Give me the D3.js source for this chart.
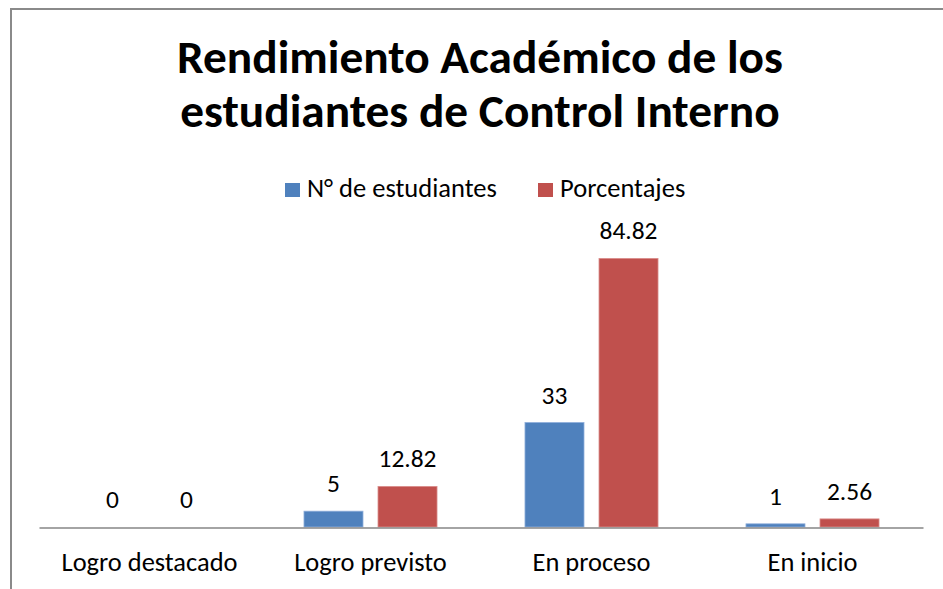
<!DOCTYPE html>
<html>
<head>
<meta charset="utf-8">
<script src="https://cdn.jsdelivr.net/npm/d3@7"></script>
<style>
  html, body { margin: 0; padding: 0; background: #fff; }
  svg { display: block; }
  text { font-family: Carlito, Calibri, Lato, "Open Sans", sans-serif; fill: #000; }
</style>
</head>
<body>
<svg id="chart" width="943" height="589"></svg>
<script>
const titleLines = ["Rendimiento Académico de los", "estudiantes de Control Interno"];
const categories = ["Logro destacado", "Logro previsto", "En proceso", "En inicio"];
const seriesNames = ["N° de estudiantes", "Porcentajes"];
const estudiantes = [0, 5, 33, 1];
const porcentajes = [0, 12.82, 84.82, 2.56];
const seriesColors = ["#4F81BD", "#C0504D"];
const seriesStroke = ["#8FAEDB", "#DA8E8C"];

const W = 943, H = 589;
const svg = d3.select("#chart");

// frame
svg.append("path")
  .attr("d", `M11,${H + 5} L11,9 L${W + 5},9`)
  .attr("fill", "none").attr("stroke", "#8a8a8a").attr("stroke-width", 2);

// helper: fit font-size so text width matches target
function fitFont(sel, target, base) {
  sel.style("font-size", base + "px");
  const w = sel.node().getComputedTextLength();
  const size = base * target / w;
  sel.style("font-size", size + "px");
  return size;
}

// title
const t1 = svg.append("text").attr("x", 480).attr("y", 73).attr("text-anchor", "middle")
  .style("font-weight", "bold").text(titleLines[0]);
const tSize = fitFont(t1, 606, 40);
svg.append("text").attr("x", 480).attr("y", 127).attr("text-anchor", "middle")
  .style("font-weight", "bold").style("font-size", tSize + "px").text(titleLines[1]);

// scales
const x = d3.scaleBand().domain(categories).range([39, 923]).padding(0);
const groupW = x.bandwidth() * 0.602;
const xs = d3.scaleBand().domain(seriesNames).range([-groupW / 2, groupW / 2])
  .paddingInner(0.2027).paddingOuter(0);
const y = d3.scaleLinear().domain([0, 90]).range([527, 242]);

const data = categories.map((c, i) => ({
  cat: c,
  vals: [
    { s: seriesNames[0], v: estudiantes[i], k: 0 },
    { s: seriesNames[1], v: porcentajes[i], k: 1 }
  ]
}));

const g = svg.append("g");
const groups = g.selectAll("g.cat").data(data).join("g")
  .attr("class", "cat")
  .attr("transform", d => `translate(${x(d.cat) + x.bandwidth() / 2},0)`);

groups.selectAll("rect").data(d => d.vals.filter(e => e.v > 0)).join("rect")
  .attr("x", e => xs(e.s))
  .attr("width", xs.bandwidth())
  .attr("y", e => y(e.v))
  .attr("height", e => y(0) - y(e.v))
  .attr("fill", e => seriesColors[e.k])
  .attr("stroke", e => seriesStroke[e.k])
  .attr("stroke-width", 0.8);

// measure data label font
const probe = svg.append("text").text("84.82");
const lblSize = fitFont(probe, 58, 22);
probe.remove();

groups.selectAll("text.lbl").data(d => d.vals).join("text")
  .attr("class", "lbl")
  .attr("x", e => xs(e.s) + xs.bandwidth() / 2)
  .attr("y", e => y(e.v) - 19)
  .attr("text-anchor", "middle")
  .style("font-size", lblSize + "px")
  .text(e => String(e.v));

// axis
const axis = d3.axisBottom(x).tickSize(0).tickPadding(0);
const ax = svg.append("g").attr("transform", `translate(0,${y(0) + 0.5})`).call(axis);
ax.select(".domain").attr("stroke", "#868686").attr("stroke-width", 1.5);
const probe2 = svg.append("text").text(categories[0]);
const catSize = fitFont(probe2, 176, 22);
probe2.remove();
ax.selectAll(".tick text")
  .attr("y", 43.5).attr("dy", 0)
  .style("font-size", catSize + "px")
  .style("font-family", "Carlito, Calibri, Lato, 'Open Sans', sans-serif")
  .attr("fill", "#000");

// legend
const probe3 = svg.append("text").text(seriesNames[0]);
const legSize = fitFont(probe3, 190, 22);
probe3.remove();
const legendX = [285, 538];
const leg = svg.append("g").selectAll("g").data(seriesNames).join("g")
  .attr("transform", (d, i) => `translate(${legendX[i]},0)`);
leg.append("rect").attr("x", 0).attr("y", 183).attr("width", 15).attr("height", 14)
  .attr("fill", (d, i) => seriesColors[i]);
leg.append("text").attr("x", 22).attr("y", 197).style("font-size", legSize + "px").text(d => d);
</script>
</body>
</html>
